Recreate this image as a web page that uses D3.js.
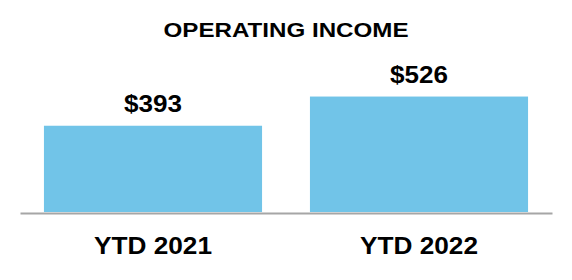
<!DOCTYPE html>
<html><head><meta charset="utf-8">
<script src="https://cdn.jsdelivr.net/npm/d3@7"></script>
<style>body{margin:0;background:#fff}svg{display:block}text{font-family:"Liberation Sans",Arial,sans-serif;font-weight:bold;fill:#000}</style>
</head><body>
<svg id="c" width="572" height="280"></svg>
<script>
const categories = ["YTD 2021", "YTD 2022"];
const values = [393, 526];
const valueLabels = ["$393", "$526"];
const title = "OPERATING INCOME";

const svg = d3.select("#c");
const x = d3.scaleBand().domain(categories).range([20, 552]).paddingInner(0.18).paddingOuter(0.09);
const y = d3.scaleLinear().domain([0, 600]).range([212, 212 - 600 * 0.2195]);

svg.append("text").attr("x", 286).attr("y", 37).attr("text-anchor", "middle")
  .attr("textLength", 245).attr("lengthAdjust", "spacingAndGlyphs")
  .style("font-size", "20.5px").text(title);

svg.selectAll("rect.bar").data(values).join("rect").attr("class", "bar")
  .attr("x", (d, i) => x(categories[i])).attr("width", x.bandwidth())
  .attr("y", d => y(d)).attr("height", d => y(0) - y(d)).attr("fill", "#71C4E8");

svg.selectAll("text.val").data(values).join("text").attr("class", "val")
  .attr("x", (d, i) => x(categories[i]) + x.bandwidth() / 2)
  .attr("y", d => y(d) - 14).attr("text-anchor", "middle")
  .attr("textLength", 58).attr("lengthAdjust", "spacingAndGlyphs")
  .style("font-size", "24.5px").text((d, i) => valueLabels[i]);

const axis = svg.append("g").attr("transform", "translate(0,213)")
  .call(d3.axisBottom(x).tickSize(0).tickPadding(24));
axis.select(".domain").attr("stroke", "#a6a6a6").attr("stroke-width", 2);
axis.selectAll(".tick text").style("font-size", "23.5px").attr("fill", "#000")
  .attr("textLength", 118).attr("lengthAdjust", "spacingAndGlyphs")
  .style("font-family", '"Liberation Sans",Arial,sans-serif').style("font-weight", "bold");
</script>
</body></html>
